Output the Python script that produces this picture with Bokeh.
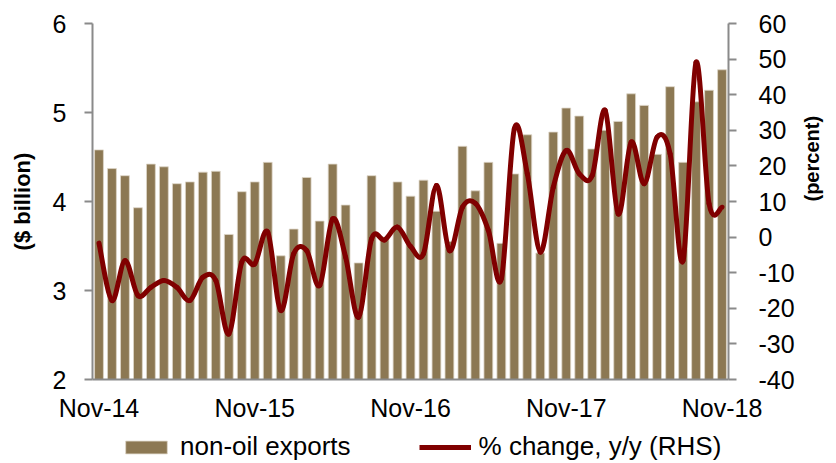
import math
import numpy as np
import pandas as pd
from bokeh.plotting import figure
from bokeh.layouts import column
from bokeh.models import Range1d, LinearAxis, FixedTicker, Legend, LegendItem
from bokeh.embed import file_html
from bokeh.resources import INLINE

months = [d.strftime("%b-%y") for d in pd.date_range("2014-11-01", periods=49, freq="MS")]

exports = [4.58, 4.37, 4.29, 3.93, 4.42, 4.39, 4.20, 4.22, 4.33, 4.34, 3.63, 4.11,
           4.22, 4.44, 3.39, 3.69, 4.27, 3.78, 4.42, 3.96, 3.31, 4.29, 3.60, 4.22,
           4.06, 4.24, 3.89, 3.55, 4.62, 4.12, 4.44, 3.53, 4.31, 4.75, 3.42, 4.78,
           5.05, 4.96, 4.59, 4.80, 4.90, 5.21, 5.08, 4.53, 5.29, 4.44, 5.12, 5.25,
           5.48]

yoy = [-1.7, -17.8, -6.6, -16.4, -14.1, -12.2, -14.1, -17.8, -11.3, -12.2, -27.2, -7.0,
       -7.5, 1.4, -20.6, -4.7, -3.8, -13.6, 5.1, -5.6, -22.5, -0.5, -0.8, 2.8,
       -2.6, -4.7, 14.5, -3.8, 8.4, 9.5, 1.9, -11.7, 30.4, 17.8, -4.2, 14.0,
       24.3, 17.8, 17.3, 35.6, 6.5, 26.7, 15.0, 28.1, 23.4, -6.6, 49.1, 9.4,
       8.4]

tick_labels = ["Nov-14", "Nov-15", "Nov-16", "Nov-17", "Nov-18"]
left_ticks = [2, 3, 4, 5, 6]
right_ticks = [-40, -30, -20, -10, 0, 10, 20, 30, 40, 50, 60]
legend_labels = ["non-oil exports", "% change, y/y (RHS)"]

FONT = "Liberation Sans"
AXIS_GRAY = "#8a8a8a"
BAR_COLOR = "#8c7853"
BAR_EDGE = "#ddd5c8"
LINE_COLOR = "#800000"

x = np.arange(len(months))
tick_pos = [months.index(t) for t in tick_labels]

p = figure(width=836, height=425, x_range=Range1d(-0.5, len(months) - 0.5),
           y_range=Range1d(2, 6), output_backend="svg", toolbar_location=None,
           min_border_left=92, min_border_right=107, min_border_top=23,
           min_border_bottom=46)
p.extra_y_ranges = {"pct": Range1d(-40, 60)}
p.outline_line_color = None
p.grid.visible = False

bars = p.vbar(x=x, top=exports, bottom=2, width=0.68, fill_color=BAR_COLOR,
              line_color=BAR_EDGE, line_width=0.8)

# Smooth (Catmull-Rom style) bezier segments through the y/y points
xs = x.astype(float)
ys = np.array(yoy, dtype=float)
n = len(ys)
x0, y0, x1, y1, cx0, cy0, cx1, cy1 = [], [], [], [], [], [], [], []
for i in range(n - 1):
    ia, ib, ic, idd = max(i - 1, 0), i, i + 1, min(i + 2, n - 1)
    x0.append(xs[ib]); y0.append(ys[ib]); x1.append(xs[ic]); y1.append(ys[ic])
    cx0.append(xs[ib] + (xs[ic] - xs[ia]) / 6.0); cy0.append(ys[ib] + (ys[ic] - ys[ia]) / 6.0)
    cx1.append(xs[ic] - (xs[idd] - xs[ib]) / 6.0); cy1.append(ys[ic] - (ys[idd] - ys[ib]) / 6.0)
p.bezier(x0=x0, y0=y0, x1=x1, y1=y1, cx0=cx0, cy0=cy0, cx1=cx1, cy1=cy1,
         y_range_name="pct", line_color=LINE_COLOR, line_width=5,
         line_cap="round", line_join="round")

def style_axis(ax):
    ax.axis_line_color = AXIS_GRAY
    ax.axis_line_width = 2
    ax.major_tick_line_color = AXIS_GRAY
    ax.major_tick_line_width = 2
    ax.minor_tick_line_color = None
    ax.major_tick_in = 0
    ax.major_label_text_font = FONT
    ax.major_label_text_font_size = "25px"
    ax.major_label_text_color = "black"
    ax.axis_label_text_font = FONT
    ax.axis_label_text_font_style = "bold"
    ax.axis_label_text_color = "black"

xa = p.xaxis[0]
style_axis(xa)
xa.ticker = FixedTicker(ticks=tick_pos)
xa.major_label_overrides = {pos: lab for pos, lab in zip(tick_pos, tick_labels)}
xa.major_tick_out = 0
xa.major_label_standoff = 14

ya = p.yaxis[0]
style_axis(ya)
ya.ticker = FixedTicker(ticks=left_ticks)
ya.major_label_overrides = {t: str(t) for t in left_ticks}
ya.major_tick_out = 8
ya.major_label_standoff = 18
ya.axis_label = "($ billion)"
ya.axis_label_text_font_size = "22px"
ya.axis_label_standoff = 15

ra = LinearAxis(y_range_name="pct", ticker=FixedTicker(ticks=right_ticks))
style_axis(ra)
ra.major_label_overrides = {t: str(t) for t in right_ticks}
ra.major_tick_out = 8
ra.major_label_standoff = 22
ra.axis_label = "(percent)"
ra.axis_label_text_font_size = "20px"
ra.axis_label_standoff = 14
try:
    ra.axis_label_orientation = math.pi / 2
except Exception:
    pass
p.add_layout(ra, "right")

# Legend strip below the chart (swatch renderers are hidden; only the legend shows)
lg = figure(width=836, height=38, x_range=Range1d(-0.5, len(months) - 0.5),
            y_range=Range1d(2, 6), output_backend="svg", toolbar_location=None,
            x_axis_location=None, y_axis_location=None,
            min_border_left=92, min_border_right=107, min_border_top=0,
            min_border_bottom=0)
lg.grid.visible = False
lg.outline_line_color = None
sw_bar = lg.vbar(x=x, top=exports, bottom=2, width=0.68, fill_color=BAR_COLOR,
                 line_color=BAR_EDGE, line_width=0.8, visible=False)
sw_line = lg.line(x=x, y=yoy, line_color=LINE_COLOR, line_width=5, visible=False)
legend = Legend(items=[LegendItem(label=legend_labels[0], renderers=[sw_bar]),
                       LegendItem(label=legend_labels[1], renderers=[sw_line])],
                location=(28, 1), orientation="horizontal",
                background_fill_alpha=0, border_line_color=None,
                padding=0, margin=0, spacing=68, glyph_width=52, glyph_height=16,
                label_height=16, label_standoff=8, label_text_font=FONT,
                label_text_font_size="26px", label_text_color="black")
lg.add_layout(legend)

layout = column(p, lg, spacing=0)
open("out.html", "w").write(file_html(layout, INLINE))
